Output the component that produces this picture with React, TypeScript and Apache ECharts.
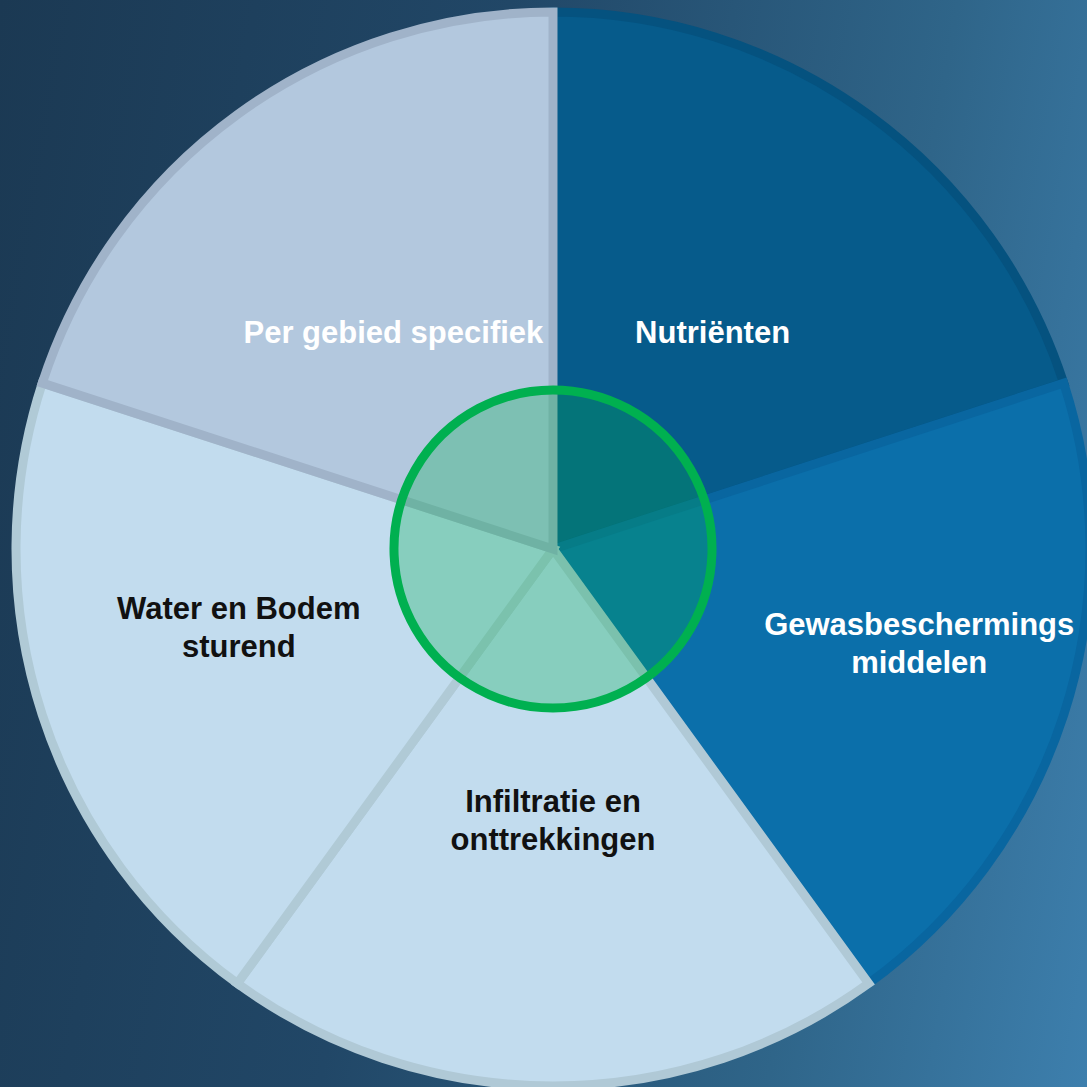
import React, { useEffect, useRef } from "react";
import * as echarts from "echarts";

// Themes in the wheel, clockwise from the top
const categories = [
  "Nutriënten",
  "Gewasbeschermings\nmiddelen",
  "Infiltratie en\nonttrekkingen",
  "Water en Bodem\nsturend",
  "Per gebied specifiek",
];
// Each theme takes an equal share of the wheel
const shares = [20, 20, 20, 20, 20];
// The central (green) circle is a single full ring
const centreShare = [100];

const sliceFills = ["#065b8b", "#0b6faa", "#c2dcee", "#c2dcee", "#b3c8de"];
const sliceBorders = ["#05527f", "#0966a0", "#b0c9d6", "#b0cad6", "#a0b3c9"];
const labelColours = ["#ffffff", "#ffffff", "#111111", "#111111", "#ffffff"];
const labelShift: [number, number][] = [
  [0, 3],
  [108, 11],
  [0, 0],
  [-56, -5],
  [0, 3],
];

export default function App() {
  const ref = useRef<HTMLDivElement>(null);

  useEffect(() => {
    document.body.style.margin = "0";
    if (!ref.current) return;
    const chart = echarts.init(ref.current, undefined, { renderer: "svg" });
    chart.setOption({
      animation: false,
      backgroundColor: "transparent",
      series: [
        {
          type: "pie",
          silent: true,
          center: [553, 549],
          radius: [0, 537],
          startAngle: 90,
          clockwise: true,
          emphasis: { disabled: true },
          label: {
            show: true,
            position: "inside",
            rotate: 0,
            fontFamily: "Liberation Sans, Arial, sans-serif",
            fontWeight: "bold",
            fontSize: 31,
            lineHeight: 38,
            align: "center",
          },
          labelLine: { show: false },
          labelLayout: (p: any) => {
            const s = labelShift[p.dataIndex] || [0, 0];
            return { dx: s[0], dy: s[1] };
          },
          data: categories.map((name, i) => ({
            name,
            value: shares[i],
            itemStyle: {
              color: sliceFills[i],
              borderColor: sliceBorders[i],
              borderWidth: 9,
              borderJoin: "miter",
            },
            label: { color: labelColours[i] },
          })),
        },
        {
          type: "pie",
          silent: true,
          z: 5,
          center: [553, 549],
          radius: [0, 159],
          emphasis: { disabled: true },
          label: { show: false },
          labelLine: { show: false },
          data: centreShare.map((v) => ({
            name: "centre",
            value: v,
            itemStyle: {
              color: "rgba(0,176,80,0.3)",
              borderColor: "#00b050",
              borderWidth: 9,
            },
          })),
        },
      ],
    });
    return () => chart.dispose();
  }, []);

  return (
    <div
      ref={ref}
      style={{
        width: 1087,
        height: 1087,
        background:
          "linear-gradient(100deg, #1b3953 0%, #214767 40%, #2f6589 75%, #3d7fad 100%)",
      }}
    />
  );
}
